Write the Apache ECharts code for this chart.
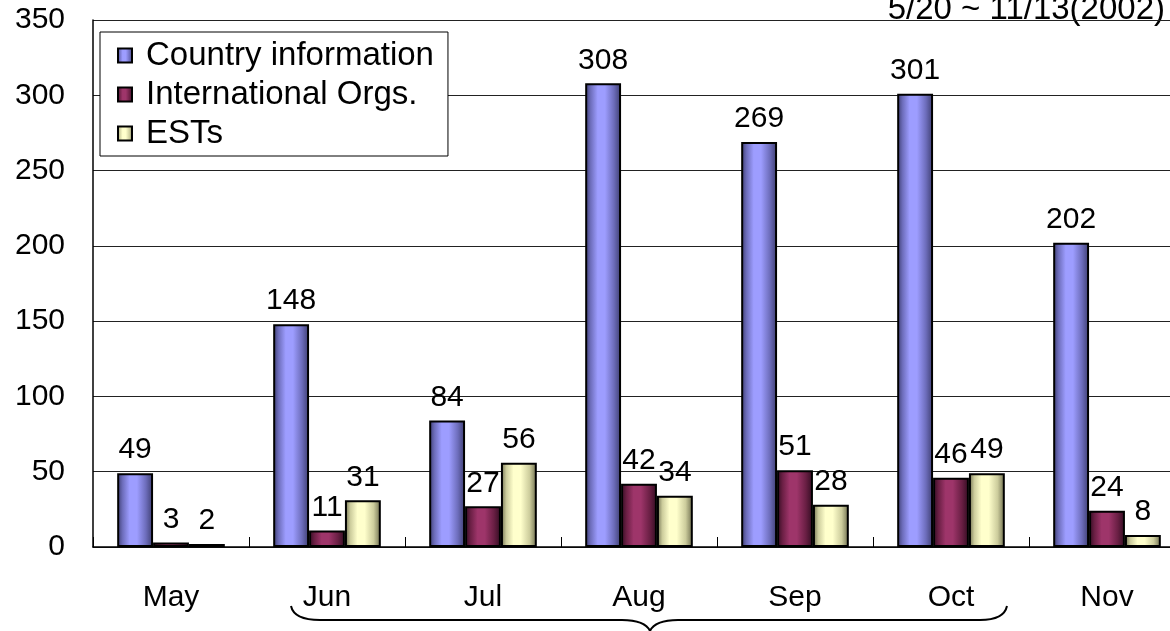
<!DOCTYPE html>
<html>
<head>
<meta charset="utf-8">
<style>
  html, body { margin: 0; padding: 0; background: #fff; overflow: hidden; }
  #chart { width: 1185px; height: 631px; }
</style>
<script src="https://cdn.jsdelivr.net/npm/echarts@6/dist/echarts.min.js"></script>
</head>
<body>
<div id="chart"></div>
<script>
var months = ['May', 'Jun', 'Jul', 'Aug', 'Sep', 'Oct', 'Nov'];
var countryInfo = [49, 148, 84, 308, 269, 301, 202];
var intlOrgs = [3, 11, 27, 42, 51, 46, 24];
var ests = [2, 31, 56, 34, 28, 49, 8];
var seriesNames = ['Country information', 'International Orgs.', 'ESTs'];
var periodText = '5/20 ~ 11/13(2002)';

var font = '"Liberation Sans", Arial, sans-serif';

// horizontal shading: dark edges, light middle band
function barGrad(edge, mid, center) {
  return new echarts.graphic.LinearGradient(0, 0, 1, 0, [
    { offset: 0, color: edge },
    { offset: 0.15, color: mid },
    { offset: 0.35, color: center },
    { offset: 0.55, color: center },
    { offset: 0.8, color: mid },
    { offset: 1, color: edge }
  ]);
}

var fills = [
  barGrad('#3c3c6e', '#6d6dbb', '#9d9dff'),
  barGrad('#300c20', '#6a1f44', '#9e356a'),
  barGrad('#6b6b4c', '#cccc9c', '#ffffcc')
];

function makeSeries(name, data, i) {
  return {
    name: name,
    type: 'bar',
    data: data,
    barGap: '0%',
    barCategoryGap: '31%',
    itemStyle: { color: fills[i], borderColor: '#000', borderWidth: 2 },
    label: {
      show: true,
      position: 'top',
      distance: 8,
      color: '#000',
      fontFamily: font,
      fontSize: 30
    }
  };
}

var chart = echarts.init(document.getElementById('chart'), null, { renderer: 'canvas' });

chart.setOption({
  animation: false,
  backgroundColor: '#fff',
  grid: { left: 93, top: 20, right: 0, bottom: 84, containLabel: false },
  legend: {
    data: seriesNames,
    orient: 'vertical',
    left: 100,
    top: 32,
    padding: [7, 14, 6, 17],
    itemGap: 6,
    itemWidth: 14,
    itemHeight: 14,
    icon: 'rect',
    backgroundColor: '#fff',
    borderColor: '#000',
    borderWidth: 1,
    textStyle: { color: '#000', fontFamily: font, fontSize: 33, padding: [0, 0, 0, 9] }
  },
  xAxis: {
    type: 'category',
    data: months,
    axisLine: { lineStyle: { color: '#000', width: 1.5 } },
    axisTick: { show: true, inside: true, length: 10, lineStyle: { color: '#000' } },
    axisLabel: { color: '#000', fontFamily: font, fontSize: 30, margin: 36 }
  },
  yAxis: {
    type: 'value',
    min: 0,
    max: 350,
    interval: 50,
    axisLine: { show: true, lineStyle: { color: '#000', width: 1.5 } },
    axisTick: { show: false },
    splitLine: { lineStyle: { color: '#222', width: 1 } },
    axisLabel: { color: '#000', fontFamily: font, fontSize: 30, margin: 28 }
  },
  series: [
    makeSeries(seriesNames[0], countryInfo, 0),
    makeSeries(seriesNames[1], intlOrgs, 1),
    makeSeries(seriesNames[2], ests, 2)
  ],
  graphic: [
    {
      type: 'text',
      right: 20,
      top: -7,
      style: { text: periodText, fill: '#000', font: '33px ' + font }
    },
    // brace under Jun..Oct
    { type: 'bezierCurve', shape: { x1: 291, y1: 606, cpx1: 294, cpy1: 620, x2: 320, y2: 620 }, style: { stroke: '#000', lineWidth: 2, fill: null } },
    { type: 'line', shape: { x1: 320, y1: 620, x2: 622, y2: 620 }, style: { stroke: '#000', lineWidth: 2 } },
    { type: 'bezierCurve', shape: { x1: 622, y1: 620, cpx1: 645, cpy1: 620, x2: 650, y2: 631 }, style: { stroke: '#000', lineWidth: 2, fill: null } },
    { type: 'bezierCurve', shape: { x1: 650, y1: 631, cpx1: 655, cpy1: 620, x2: 678, y2: 620 }, style: { stroke: '#000', lineWidth: 2, fill: null } },
    { type: 'line', shape: { x1: 678, y1: 620, x2: 980, y2: 620 }, style: { stroke: '#000', lineWidth: 2 } },
    { type: 'bezierCurve', shape: { x1: 980, y1: 620, cpx1: 1004, cpy1: 620, x2: 1007, y2: 606 }, style: { stroke: '#000', lineWidth: 2, fill: null } }
  ]
});
window.addEventListener('resize', function() { chart.resize(); });
</script>
</body>
</html>
